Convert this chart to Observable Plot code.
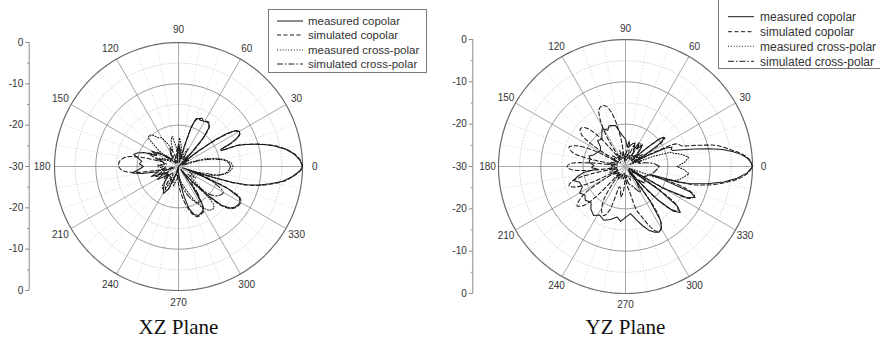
<!DOCTYPE html>
<html><head><meta charset="utf-8">
<script src="https://cdn.jsdelivr.net/npm/d3@7"></script>
<script src="https://cdn.jsdelivr.net/npm/@observablehq/plot@0.6"></script>
<style>
body{margin:0;background:#fff;}
#wrap{position:relative;width:880px;height:338px;overflow:hidden;font-family:"Liberation Sans",Arial,sans-serif;background:#fff;}
.panel{position:absolute;top:0;width:440px;height:338px;}
.legend{position:absolute;background:#fff;border:1px solid #7a7a7a;box-sizing:border-box;}
.legend svg{display:block;}
</style></head><body><div id="wrap"></div>
<script>
// ---------- data: [angle (deg), level (dB)] ----------
const angleLabels = [0, 30, 60, 90, 120, 150, 180, 210, 240, 270, 300, 330];
const radialTicks = [0, -10, -20, -30];
const radialMinor = [-5, -15, -25];
const legendLabels = ["measured copolar", "simulated copolar", "measured cross-polar", "simulated cross-polar"];
const panelTitles = ["XZ Plane", "YZ Plane"];

const xzMeasCo = [[0,0],[3,-0.6],[6,-1.8],[9,-3.6],[12,-6.2],[14,-8.2],[16,-10.5],[18,-12.8],[19.7,-15],[20.5,-19],[22,-19],[24,-16],[26,-14.2],[28,-13.2],[30,-13],[32,-13.6],[34,-15.5],[36,-19],[38,-24],[40,-29],[43,-30],[46,-26],[49,-21],[52,-18],[55,-17.3],[58,-17.2],[61,-17.5],[64,-17],[67,-17.4],[70,-17.8],[72,-20],[74,-25],[77,-29],[82,-28],[86,-26],[90,-24.5],[94,-27],[100,-28.5],[110,-29],[120,-28],[130,-29],[138,-27],[145,-25],[150,-22.5],[154,-24],[158,-21],[162,-19.5],[165,-18.8],[168,-20],[172,-21],[176,-20.5],[180,-21.5],[184,-20.5],[188,-18.7],[191,-21],[195,-25],[200,-23],[205,-26],[212,-24],[220,-27],[228,-25],[236,-23.5],[241,-22.5],[246,-24],[252,-28],[260,-30],[268,-29],[274,-27],[280,-23],[284,-19.5],[288,-17.8],[292,-17.2],[296,-17.5],[299,-17.8],[302,-19],[305,-24],[308,-29],[312,-26],[315,-21],[318,-16],[321,-14],[324,-13.2],[327,-12.9],[330,-12.8],[333,-13.5],[336,-17],[339,-25],[341,-29],[342.5,-22],[343.5,-16.5],[345,-13],[347,-10],[349.3,-7.4],[352,-4.5],[355,-2.3],[358,-0.6],[360,0]];
const xzSimCo = [[0,0],[3,-0.5],[6,-1.7],[9,-3.5],[12,-6],[14,-8],[16,-10.3],[18,-12.6],[19.7,-14.8],[20.5,-18.5],[22,-18.5],[24,-15.8],[26,-14],[28,-13.2],[30,-13.2],[32,-13.8],[34,-16],[36,-20],[38,-25],[40,-29],[44,-29],[47,-24],[50,-19.5],[53,-17.5],[56,-17],[60,-17.3],[64,-17.6],[68,-17.5],[71,-19],[73,-23],[76,-28],[82,-27],[88,-25],[95,-26],[100,-29],[108,-27],[115,-25],[122,-27],[130,-28],[140,-26],[148,-23.5],[152,-24],[156,-22],[160,-24],[163,-26],[166,-21],[170,-17],[175,-15.7],[180,-15.5],[184,-16.4],[187,-18.4],[190,-24],[193,-29],[198,-26],[204,-24],[210,-27],[220,-25.5],[230,-27],[238,-24],[244,-23.5],[250,-27],[258,-29],[266,-27],[272,-25],[278,-22],[283,-19.5],[287,-17.8],[291,-17],[295,-17.2],[299,-17.5],[302,-19],[305,-24],[308,-29],[312,-25],[315,-20],[318,-15.5],[321,-13.8],[324,-13],[327,-12.7],[330,-12.6],[333,-13.3],[336,-17],[339,-24],[341,-28],[342.5,-21],[343.5,-16],[345,-12.6],[347,-9.7],[349.3,-7.2],[352,-4.3],[355,-2.2],[358,-0.5],[360,0]];
const xzMeasX = [[0,-16.8],[4,-17.2],[8,-18.5],[12,-20.5],[16,-23],[20,-27],[25,-29],[32,-27],[40,-28],[48,-26],[55,-28],[62,-25],[68,-27],[75,-28],[82,-25],[88,-23],[92,-27],[97,-25],[102,-22.5],[106,-23.5],[110,-26],[115,-24],[120,-22],[125,-21.5],[129,-20.3],[133,-19.6],[137,-20],[141,-24],[145,-28],[152,-26],[160,-24],[168,-27],[176,-25],[184,-27],[192,-25],[200,-28],[210,-26],[220,-27],[230,-24],[236,-23.2],[242,-25],[250,-27],[256,-25],[262,-27],[270,-28],[280,-26],[288,-24],[295,-21],[300,-18.5],[305,-17],[310,-16.7],[313,-17.5],[316,-22],[320,-27],[326,-25],[332,-27],[338,-24],[344,-22],[348,-20],[352,-18.2],[356,-17.2],[360,-16.8]];
const xzSimX = [[0,-17.4],[4,-17.8],[8,-19],[12,-21.5],[16,-25],[20,-29],[30,-28],[40,-27],[50,-28],[60,-27],[70,-28],[80,-26.5],[90,-25.5],[100,-27],[110,-28],[120,-26],[130,-27.5],[140,-26],[150,-27],[160,-25],[170,-26.5],[180,-25],[190,-26.5],[200,-25.5],[210,-27],[220,-26],[230,-28],[240,-26],[250,-27.5],[260,-28],[270,-27],[280,-25],[290,-22],[298,-20],[304,-21],[310,-25],[318,-20],[324,-18],[330,-17.5],[336,-21],[342,-25],[348,-20],[352,-18.5],[356,-17.8],[360,-17.4]];

const yzMeasCo = [[0,0],[2,-0.4],[4,-1.2],[6,-2.6],[8,-4.5],[10,-6.8],[11.8,-9.5],[14,-13],[16.5,-16],[18.9,-18.3],[20.5,-18.5],[22.5,-18.1],[24.5,-19.5],[26.5,-24],[28.5,-28],[31,-25],[33,-21],[35.5,-19],[37.4,-18.6],[39,-19.5],[41,-23],[44,-27],[48,-25],[52,-23.5],[56,-25],[60,-23.5],[64,-25.5],[68,-24],[73,-24.4],[78,-25],[82,-24],[85,-25.4],[90,-23.5],[96,-22.6],[100,-21.5],[104,-20],[108,-19.8],[112,-19.6],[116,-20.5],[121.7,-19.5],[126,-20.5],[131,-21.5],[137,-21],[142,-22.5],[148,-23],[154,-22.5],[160,-22],[164,-21],[167.6,-21.5],[173,-21.3],[178,-22.5],[182,-22],[185,-23.3],[188,-20],[192,-18.3],[195,-17.3],[199,-18.5],[205.5,-18.7],[210,-17.5],[215,-18.3],[220,-17.6],[226,-18.3],[231,-17],[237,-16.2],[242,-17],[248,-16.3],[254,-17],[260.7,-17.9],[265,-17],[270,-18],[276,-18.8],[282,-17],[286,-15.5],[290,-14],[294,-13],[297,-12.6],[300,-13],[303,-14.8],[305.5,-20],[308,-29],[311,-26],[314,-19],[317,-14.5],[320,-13.1],[322.5,-14.5],[325,-20],[327.5,-29],[330,-20],[333,-14],[336,-12],[338.5,-13.5],[340.5,-20],[342,-24],[343.5,-17],[345,-14.5],[348,-10.3],[351,-6.5],[354,-3.5],[357,-1.2],[360,0]];
const yzSimCo = [[0,0],[3,-0.6],[6,-2.2],[9,-4.8],[12.9,-7.8],[15,-10.5],[17.5,-13.5],[20,-15.8],[23.7,-16.7],[26,-21],[28.5,-27],[31,-24],[33.5,-20],[36,-18.5],[38.5,-19.5],[41,-24],[44,-28],[50,-25],[56,-23.5],[62,-26],[68,-24.5],[74,-27],[80,-25],[86,-26.5],[92,-28],[96,-29],[99,-24],[102,-19.5],[105,-16.5],[108,-15],[111,-14.6],[115,-15.2],[119,-18],[123,-23],[126,-28],[129,-26],[132,-20],[136,-16.8],[140,-16.1],[144,-17.2],[147,-21],[150,-28],[153,-22],[157,-17.5],[161,-15.9],[165,-17],[168,-21],[171,-28],[174,-22],[177,-17],[180,-16.2],[183,-17],[186,-21],[189,-28],[192,-22],[195,-17.2],[198.7,-15.9],[202,-17],[205,-21],[208,-28],[211,-24],[214,-18],[219,-15.3],[223,-16.5],[226,-21],[229,-28],[233,-25],[237,-20.5],[242,-18],[246,-17.3],[250,-19],[254,-25],[258,-24.5],[261,-22.7],[265,-24],[270,-27],[275,-25.5],[280,-23.5],[284,-19.5],[287,-18],[291,-15.5],[295,-13.2],[298,-12.8],[301,-13.5],[304,-16],[306.5,-23],[309,-29],[313,-21],[317,-15],[320,-13.8],[323,-15],[325.5,-21],[328,-29],[331,-18],[334,-12.8],[337,-12.3],[340,-15],[342,-20],[343.5,-19],[345,-13.5],[348,-9.3],[351,-6],[354,-3],[357,-1],[360,0]];
const yzMeasX = [[0,-17.8],[4,-16],[8.3,-14.9],[12,-16.3],[15,-18],[17.6,-18.9],[20,-23],[24,-29],[30,-27],[40,-28],[50,-26.5],[60,-28],[70,-27],[80,-28.5],[90,-27],[100,-28],[110,-26],[120,-28],[130,-27],[140,-28.5],[150,-27],[160,-28],[170,-26.5],[180,-27],[190,-28],[200,-26],[210,-27.5],[220,-28],[230,-26.5],[240,-28],[250,-27],[260,-28.5],[270,-27],[280,-28],[290,-26.5],[300,-28],[310,-27],[320,-28],[330,-26],[336,-29],[340,-23],[343,-18.5],[346,-17],[349,-16.2],[353.4,-14.9],[357,-16.2],[360,-17.8]];
const yzSimX = [[0,-22],[5,-23],[10,-25],[15,-27],[20,-26],[28,-28],[35,-25],[40,-27],[50,-28],[60,-26],[70,-28],[80,-27],[90,-28],[100,-26.5],[110,-28],[120,-27],[130,-28],[140,-26],[150,-27.5],[160,-27],[170,-26],[180,-27],[190,-26],[200,-28],[210,-26.5],[220,-27.5],[230,-28],[240,-26.5],[250,-28],[260,-27],[270,-28],[280,-26],[290,-25],[300,-23],[310,-26],[320,-24],[330,-25],[340,-24],[350,-23],[360,-22]];

// ---------- styles ----------
const lineStyles = [
  {dash: null, curve: "linear"},
  {dash: "4,2.5", curve: "catmull-rom"},
  {dash: "1,1.8", curve: "linear"},
  {dash: "6,2,1.5,2", curve: "catmull-rom"}
];
const INK = "#1a1a1a";
const rad = a => a * Math.PI / 180;
const rOf = db => Math.max(0, db + 30);

function polarPanel(cfg, series, title) {
  const {cx, cy, R, axisPx, labelR} = cfg;
  const k = 30 / R;
  const axX = (axisPx - cx) * k;
  const circle = d3.range(0, 362, 2);
  const rings = rs => rs.flatMap(r => circle.map(a => ({r, a})));
  const minorSpokes = d3.range(0, 360, 10).filter(a => a % 30 !== 0);
  const majorSpokes = d3.range(0, 360, 30);
  const tickRows = [];
  radialTicks.forEach(db => {
    tickRows.push({y: db + 30, label: String(db)});
    if (db !== -30) tickRows.push({y: -(db + 30), label: String(db)});
  });
  const minorRows = radialMinor.flatMap(db => [{y: db + 30}, {y: -(db + 30)}]);

  const marks = [
    Plot.line(rings([5, 15, 25]), {x: d => d.r * Math.cos(rad(d.a)), y: d => d.r * Math.sin(rad(d.a)), z: "r", stroke: "#cdcdcd", strokeWidth: 0.8, strokeDasharray: "1,2"}),
    Plot.link(minorSpokes, {x1: () => 0, y1: () => 0, x2: a => 30 * Math.cos(rad(a)), y2: a => 30 * Math.sin(rad(a)), stroke: "#cdcdcd", strokeWidth: 0.8, strokeDasharray: "1,2"}),
    Plot.link(majorSpokes, {x1: () => 0, y1: () => 0, x2: a => 30 * Math.cos(rad(a)), y2: a => 30 * Math.sin(rad(a)), stroke: "#a8a8a8", strokeWidth: 1}),
    Plot.line(rings([10, 20]), {x: d => d.r * Math.cos(rad(d.a)), y: d => d.r * Math.sin(rad(d.a)), z: "r", stroke: "#999", strokeWidth: 1}),
    Plot.line(rings([30]), {x: d => d.r * Math.cos(rad(d.a)), y: d => d.r * Math.sin(rad(d.a)), stroke: "#6a6a6a", strokeWidth: 1.2}),
    ...series.map((s, i) => Plot.line(s, {
      x: d => rOf(d[1]) * Math.cos(rad(d[0])),
      y: d => rOf(d[1]) * Math.sin(rad(d[0])),
      stroke: INK, strokeWidth: 1.05,
      strokeDasharray: lineStyles[i].dash || undefined,
      curve: lineStyles[i].curve
    })),
    Plot.text(angleLabels, {x: a => labelR * Math.cos(rad(a)), y: a => labelR * Math.sin(rad(a)), text: a => String(a), fill: "#333", fontSize: 10}),
    Plot.ruleX([axX], {y1: -30, y2: 30, stroke: "#8a8a8a", strokeWidth: 1}),
    Plot.link(tickRows, {x1: axX - 4 * k, x2: axX, y1: "y", y2: "y", stroke: "#8a8a8a"}),
    Plot.link(minorRows, {x1: axX - 2 * k, x2: axX, y1: "y", y2: "y", stroke: "#8a8a8a"}),
    Plot.text(tickRows, {x: axX, y: "y", text: "label", textAnchor: "end", dx: -6, fill: "#333", fontSize: 10}),
    Plot.text([title], {x: () => 0, y: () => (cy - 333) * k, text: d => d, lineAnchor: "bottom", fontFamily: "Liberation Serif, serif", fontSize: 21, fill: "#111"})
  ];

  return Plot.plot({
    width: 440, height: 338, margin: 0,
    x: {domain: [-30, 30], range: [cx - R, cx + R], axis: null},
    y: {domain: [-30, 30], range: [cy + R, cy - R], axis: null},
    style: {fontFamily: "Liberation Sans, Arial, sans-serif", fontSize: "10px", background: "transparent", overflow: "visible"},
    marks
  });
}

function legendBox(opts) {
  const div = document.createElement("div");
  div.className = "legend";
  Object.assign(div.style, {left: opts.left + "px", top: opts.top + "px", width: opts.width + "px", height: opts.height + "px"});
  const ns = "http://www.w3.org/2000/svg";
  const svg = document.createElementNS(ns, "svg");
  svg.setAttribute("width", opts.width);
  svg.setAttribute("height", opts.height);
  legendLabels.forEach((lab, i) => {
    const y = opts.rows[i];
    const ln = document.createElementNS(ns, "line");
    ln.setAttribute("x1", opts.lx1); ln.setAttribute("x2", opts.lx2);
    ln.setAttribute("y1", y); ln.setAttribute("y2", y);
    ln.setAttribute("stroke", INK); ln.setAttribute("stroke-width", 1);
    if (lineStyles[i].dash) ln.setAttribute("stroke-dasharray", lineStyles[i].dash);
    svg.appendChild(ln);
    const t = document.createElementNS(ns, "text");
    t.setAttribute("x", opts.tx); t.setAttribute("y", y);
    t.setAttribute("dy", "0.35em");
    t.setAttribute("font-size", opts.fs);
    t.setAttribute("font-family", "Liberation Sans, Arial, sans-serif");
    t.setAttribute("fill", "#333");
    t.textContent = lab;
    svg.appendChild(t);
  });
  div.appendChild(svg);
  return div;
}

const wrap = document.getElementById("wrap");
const left = document.createElement("div"); left.className = "panel"; left.style.left = "0px";
left.appendChild(polarPanel({cx: 178, cy: 166, R: 124, axisPx: 28.7, labelR: 33}, [xzMeasCo, xzSimCo, xzMeasX, xzSimX], panelTitles[0]));
const right = document.createElement("div"); right.className = "panel"; right.style.left = "440px";
right.appendChild(polarPanel({cx: 185, cy: 166, R: 127, axisPx: 32.3, labelR: 32.6}, [yzMeasCo, yzSimCo, yzMeasX, yzSimX], panelTitles[1]));
wrap.appendChild(left); wrap.appendChild(right);

wrap.appendChild(legendBox({left: 268, top: 9, width: 159, height: 64, rows: [11, 25, 40, 54], lx1: 8, lx2: 34, tx: 39, fs: 11.5}));
wrap.appendChild(legendBox({left: 718, top: -2, width: 170, height: 71, rows: [17.7, 32.7, 47.3, 62.3], lx1: 9, lx2: 35, tx: 41, fs: 12}));
</script></body></html>
